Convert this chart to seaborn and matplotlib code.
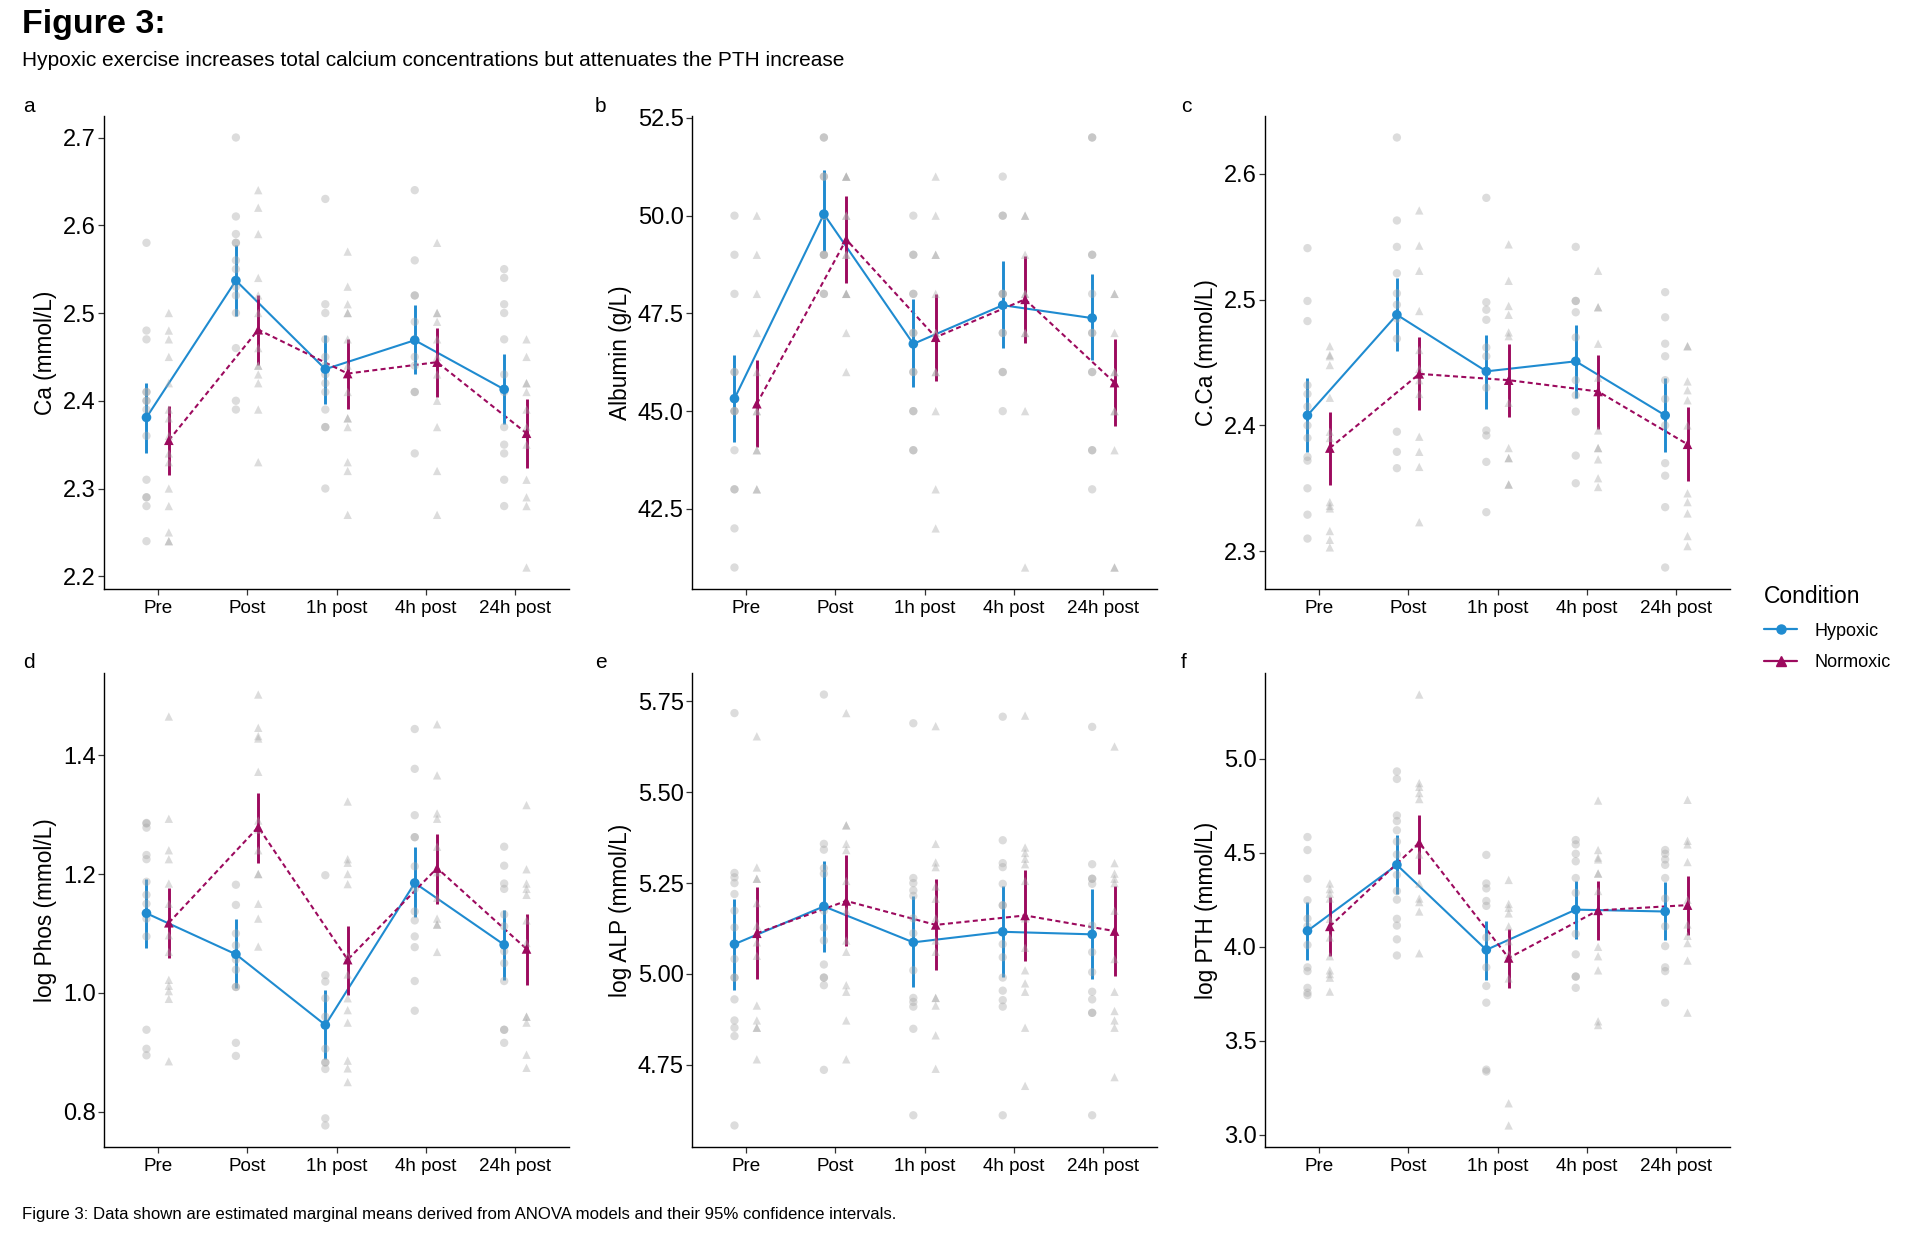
import numpy as np
import pandas as pd
import seaborn as sns
from matplotlib import pyplot as plt
from matplotlib.lines import Line2D

sns.set_theme(style="ticks")
plt.rcParams['font.family'] = ['Liberation Sans', 'DejaVu Sans']
plt.rcParams['text.color'] = 'black'
plt.rcParams['axes.labelcolor'] = 'black'
plt.rcParams['xtick.color'] = 'black'
plt.rcParams['ytick.color'] = 'black'

W, H = 1920, 1234

times = ["Pre", "Post", "1h post", "4h post", "24h post"]
conditions = ["Hypoxic", "Normoxic"]
palette = {"Hypoxic": "#1f8bd0", "Normoxic": "#9c0a5e"}

# ---- a: Ca ----
ca_hyp_mean = [2.381, 2.537, 2.436, 2.469, 2.413]
ca_hyp_lo = [2.341, 2.497, 2.396, 2.430, 2.374]
ca_hyp_hi = [2.420, 2.577, 2.475, 2.509, 2.453]
ca_nor_mean = [2.355, 2.481, 2.431, 2.444, 2.363]
ca_nor_lo = [2.315, 2.441, 2.391, 2.404, 2.323]
ca_nor_hi = [2.394, 2.520, 2.470, 2.483, 2.402]
ca_hyp_raw = [
    [2.58, 2.48, 2.47, 2.41, 2.41, 2.40, 2.40, 2.39, 2.36, 2.31, 2.29, 2.29, 2.28, 2.24],
    [2.70, 2.61, 2.59, 2.58, 2.58, 2.56, 2.55, 2.53, 2.52, 2.50, 2.46, 2.40, 2.39],
    [2.63, 2.51, 2.50, 2.47, 2.45, 2.44, 2.43, 2.42, 2.41, 2.39, 2.37, 2.37, 2.30],
    [2.64, 2.56, 2.52, 2.52, 2.49, 2.47, 2.45, 2.44, 2.41, 2.41, 2.34],
    [2.55, 2.54, 2.51, 2.50, 2.47, 2.43, 2.41, 2.37, 2.35, 2.34, 2.31, 2.28],
]
ca_nor_raw = [
    [2.50, 2.48, 2.47, 2.45, 2.42, 2.39, 2.38, 2.36, 2.34, 2.33, 2.30, 2.28, 2.25, 2.24, 2.24],
    [2.64, 2.62, 2.59, 2.54, 2.52, 2.50, 2.48, 2.46, 2.44, 2.44, 2.43, 2.42, 2.39, 2.33],
    [2.57, 2.53, 2.51, 2.50, 2.50, 2.47, 2.44, 2.41, 2.38, 2.38, 2.37, 2.33, 2.32, 2.27],
    [2.58, 2.50, 2.50, 2.49, 2.47, 2.45, 2.43, 2.40, 2.37, 2.32, 2.27],
    [2.47, 2.45, 2.42, 2.42, 2.41, 2.39, 2.37, 2.35, 2.31, 2.29, 2.28, 2.21],
]

# ---- b: Albumin ----
alb_hyp_mean = [45.32, 50.04, 46.72, 47.71, 47.38]
alb_hyp_lo = [44.22, 49.09, 45.62, 46.61, 46.30]
alb_hyp_hi = [46.44, 51.17, 47.86, 48.84, 48.52]
alb_nor_mean = [45.19, 49.39, 46.89, 47.86, 45.73]
alb_nor_lo = [44.07, 48.27, 45.78, 46.75, 44.62]
alb_nor_hi = [46.31, 50.50, 48.00, 48.97, 46.84]
alb_hyp_raw = [
    [50, 49, 48, 46, 46, 45, 45, 45, 44, 43, 43, 42, 41],
    [52, 52, 51, 51, 50, 50, 50, 49, 49, 49, 48, 48],
    [50, 49, 49, 48, 48, 47, 47, 46, 46, 45, 45, 44, 44],
    [51, 50, 50, 48, 48, 48, 47, 47, 46, 46, 45],
    [52, 52, 49, 49, 48, 47, 47, 46, 46, 44, 44, 43],
]
alb_nor_raw = [
    [50, 49, 48, 47, 46, 45, 45, 44, 44, 43, 43],
    [51, 51, 51, 50, 50, 49, 49, 48, 48, 48, 47, 46],
    [51, 50, 49, 49, 48, 47, 47, 46, 46, 45, 43, 42],
    [50, 50, 49, 48, 48, 47, 47, 45, 41],
    [48, 48, 47, 46, 46, 45, 45, 44, 41, 41],
]

# ---- c: corrected Ca ----
cca_hyp_mean = [2.408, 2.488, 2.443, 2.451, 2.408]
cca_hyp_lo = [2.379, 2.459, 2.413, 2.422, 2.379]
cca_hyp_hi = [2.438, 2.517, 2.472, 2.480, 2.438]
cca_nor_mean = [2.382, 2.441, 2.436, 2.427, 2.385]
cca_nor_lo = [2.353, 2.412, 2.407, 2.397, 2.356]
cca_nor_hi = [2.411, 2.470, 2.465, 2.456, 2.415]
cca_hyp_raw = [
    [2.541, 2.499, 2.483, 2.432, 2.425, 2.415, 2.400, 2.390, 2.375, 2.372, 2.350, 2.329, 2.310],
    [2.629, 2.563, 2.542, 2.521, 2.505, 2.496, 2.485, 2.469, 2.395, 2.379, 2.366],
    [2.581, 2.498, 2.492, 2.484, 2.462, 2.455, 2.430, 2.396, 2.392, 2.371, 2.331],
    [2.542, 2.499, 2.499, 2.490, 2.470, 2.436, 2.424, 2.411, 2.376, 2.354],
    [2.506, 2.486, 2.465, 2.455, 2.436, 2.421, 2.400, 2.370, 2.360, 2.335, 2.287],
]
cca_nor_raw = [
    [2.463, 2.456, 2.455, 2.448, 2.422, 2.395, 2.390, 2.339, 2.336, 2.334, 2.316, 2.309, 2.303],
    [2.571, 2.543, 2.523, 2.491, 2.460, 2.445, 2.436, 2.425, 2.391, 2.379, 2.367, 2.323],
    [2.544, 2.515, 2.495, 2.488, 2.474, 2.471, 2.418, 2.382, 2.374, 2.374, 2.353, 2.353],
    [2.523, 2.494, 2.494, 2.465, 2.438, 2.396, 2.382, 2.382, 2.373, 2.358, 2.351],
    [2.463, 2.463, 2.435, 2.428, 2.420, 2.400, 2.346, 2.339, 2.330, 2.312, 2.304],
]

# ---- d: log Phos ----
phos_hyp_mean = [1.134, 1.065, 0.946, 1.185, 1.081]
phos_hyp_lo = [1.075, 1.009, 0.888, 1.128, 1.022]
phos_hyp_hi = [1.192, 1.124, 1.005, 1.245, 1.140]
phos_nor_mean = [1.118, 1.279, 1.056, 1.210, 1.074]
phos_nor_lo = [1.059, 1.218, 0.996, 1.150, 1.013]
phos_nor_hi = [1.176, 1.337, 1.113, 1.267, 1.132]
phos_hyp_raw = [
    [1.286, 1.285, 1.278, 1.232, 1.225, 1.187, 1.165, 1.150, 1.125, 1.095, 0.938, 0.906, 0.895],
    [1.182, 1.148, 1.100, 1.080, 1.056, 1.039, 1.010, 1.010, 0.916, 0.894],
    [1.198, 1.030, 1.019, 0.991, 0.960, 0.945, 0.906, 0.883, 0.883, 0.872, 0.789, 0.777],
    [1.444, 1.377, 1.299, 1.262, 1.262, 1.213, 1.175, 1.137, 1.122, 1.095, 1.077, 1.020, 0.970],
    [1.246, 1.214, 1.184, 1.175, 1.132, 1.112, 1.070, 1.050, 1.020, 0.938, 0.938, 0.916],
]
phos_nor_raw = [
    [1.465, 1.293, 1.240, 1.225, 1.184, 1.150, 1.097, 1.069, 1.022, 1.012, 1.003, 0.990, 0.885],
    [1.502, 1.446, 1.432, 1.428, 1.372, 1.290, 1.275, 1.240, 1.200, 1.200, 1.150, 1.125, 1.078],
    [1.322, 1.225, 1.219, 1.200, 1.183, 1.062, 1.031, 0.991, 0.971, 0.950, 0.886, 0.873, 0.850],
    [1.452, 1.366, 1.302, 1.293, 1.246, 1.203, 1.160, 1.125, 1.115, 1.115, 1.069],
    [1.316, 1.208, 1.184, 1.175, 1.165, 1.122, 1.084, 0.960, 0.960, 0.950, 0.896, 0.874],
]

# ---- e: log ALP ----
alp_hyp_mean = [5.082, 5.186, 5.087, 5.116, 5.109]
alp_hyp_lo = [4.957, 5.061, 4.964, 4.992, 4.985]
alp_hyp_hi = [5.207, 5.310, 5.215, 5.242, 5.235]
alp_nor_mean = [5.112, 5.201, 5.135, 5.161, 5.118]
alp_nor_lo = [4.987, 5.076, 5.010, 5.036, 4.993]
alp_nor_hi = [5.240, 5.328, 5.262, 5.287, 5.243]
alp_hyp_raw = [
    [5.718, 5.278, 5.266, 5.250, 5.220, 5.174, 5.128, 5.041, 4.990, 4.990, 4.930, 4.872, 4.852, 4.829, 4.583],
    [5.769, 5.358, 5.342, 5.291, 5.276, 5.174, 5.128, 5.092, 5.026, 4.990, 4.990, 4.969, 4.736],
    [5.690, 5.264, 5.250, 5.230, 5.215, 5.153, 5.112, 5.010, 4.934, 4.923, 4.910, 4.849, 4.611],
    [5.708, 5.368, 5.305, 5.294, 5.248, 5.189, 5.189, 5.082, 5.046, 4.990, 4.954, 4.928, 4.910, 4.611],
    [5.680, 5.302, 5.262, 5.262, 5.248, 5.133, 5.060, 5.005, 4.951, 4.930, 4.893, 4.893, 4.611],
]
alp_nor_raw = [
    [5.654, 5.293, 5.262, 5.262, 5.195, 5.133, 5.087, 5.050, 4.913, 4.872, 4.852, 4.852, 4.765],
    [5.718, 5.409, 5.409, 5.358, 5.341, 5.256, 5.174, 5.092, 5.061, 4.969, 4.951, 4.872, 4.765],
    [5.682, 5.358, 5.307, 5.294, 5.241, 5.207, 5.153, 5.092, 5.061, 4.934, 4.934, 4.913, 4.831, 4.739],
    [5.711, 5.348, 5.333, 5.317, 5.302, 5.256, 5.153, 5.072, 5.010, 4.974, 4.951, 4.852, 4.692],
    [5.626, 5.305, 5.276, 5.262, 5.250, 5.174, 5.041, 4.951, 4.898, 4.872, 4.852, 4.716],
]

# ---- f: log PTH ----
pth_hyp_mean = [4.085, 4.436, 3.984, 4.198, 4.188]
pth_hyp_lo = [3.931, 4.283, 3.826, 4.040, 4.034]
pth_hyp_hi = [4.238, 4.594, 4.139, 4.350, 4.343]
pth_nor_mean = [4.109, 4.554, 3.941, 4.194, 4.222]
pth_nor_lo = [3.950, 4.390, 3.782, 4.034, 4.062]
pth_nor_hi = [4.264, 4.703, 4.095, 4.350, 4.378]
pth_hyp_raw = [
    [4.584, 4.515, 4.362, 4.248, 4.150, 4.109, 4.010, 3.891, 3.871, 3.782, 3.756, 3.743],
    [4.933, 4.893, 4.699, 4.669, 4.620, 4.560, 4.491, 4.383, 4.297, 4.251, 4.149, 4.113, 4.040, 3.954],
    [4.489, 4.337, 4.311, 4.244, 4.218, 4.050, 3.891, 3.792, 3.703, 3.347, 3.337],
    [4.568, 4.545, 4.495, 4.455, 4.366, 4.287, 4.200, 4.069, 3.960, 3.842, 3.842, 3.782],
    [4.515, 4.495, 4.465, 4.436, 4.366, 4.257, 4.109, 4.004, 3.891, 3.871, 3.703],
]
pth_nor_raw = [
    [4.337, 4.307, 4.283, 4.257, 4.149, 4.050, 3.950, 3.875, 3.855, 3.836, 3.762],
    [5.342, 4.871, 4.851, 4.818, 4.786, 4.491, 4.337, 4.257, 4.238, 4.188, 3.966],
    [4.356, 4.228, 4.208, 4.178, 4.109, 4.030, 3.960, 3.832, 3.168, 3.050],
    [4.778, 4.515, 4.475, 4.465, 4.390, 4.390, 4.297, 4.000, 3.950, 3.875, 3.604, 3.584],
    [4.782, 4.564, 4.545, 4.451, 4.250, 4.119, 4.059, 4.020, 3.927, 3.650],
]

offsets = {"Hypoxic": -0.125, "Normoxic": 0.125}
markers = {"Hypoxic": "o", "Normoxic": "^"}


def add_panel(fig, left, top, right, bottom):
    return fig.add_axes([left / W, 1 - bottom / H, (right - left) / W, (bottom - top) / H])


def draw_panel(ax, hyp_raw, nor_raw, hyp_stats, nor_stats, ylabel, yticks, fmt):
    rows = []
    for cond, raw in (("Hypoxic", hyp_raw), ("Normoxic", nor_raw)):
        for i, vals in enumerate(raw):
            for v in vals:
                rows.append((i + offsets[cond], cond, v))
    df_raw = pd.DataFrame(rows, columns=["x", "Condition", "value"])

    mrows = []
    for cond, (m, lo, hi) in (("Hypoxic", hyp_stats), ("Normoxic", nor_stats)):
        for i in range(len(times)):
            mrows.append((i + offsets[cond], cond, m[i], lo[i], hi[i]))
    df_m = pd.DataFrame(mrows, columns=["x", "Condition", "mean", "lo", "hi"])

    sns.lineplot(data=df_m, x="x", y="mean", hue="Condition", style="Condition",
                 palette=palette, dashes={"Hypoxic": "", "Normoxic": (2.4, 1.6)},
                 errorbar=None, linewidth=1.5, legend=False, ax=ax, zorder=2)
    for cond in conditions:
        sub = df_m[df_m["Condition"] == cond]
        ax.vlines(sub["x"], sub["lo"], sub["hi"], color=palette[cond], lw=2.1, zorder=2)

    sns.scatterplot(data=df_raw, x="x", y="value", style="Condition", markers=markers,
                    color="#a8a8a8", alpha=0.4, s=36, linewidth=0, legend=False,
                    ax=ax, zorder=3)
    sns.scatterplot(data=df_m, x="x", y="mean", hue="Condition", style="Condition",
                    markers=markers, palette=palette, s=48, linewidth=0, legend=False,
                    ax=ax, zorder=4)

    lo_v, hi_v = df_raw["value"].min(), df_raw["value"].max()
    pad = (hi_v - lo_v) * 0.05
    ax.set_ylim(lo_v - pad, hi_v + pad)
    ax.set_xlim(-0.6, 4.6)
    ax.set_xticks(range(len(times)))
    ax.set_xticklabels(times, fontsize=13.6)
    ax.set_yticks(yticks)
    ax.set_yticklabels([fmt.format(t) for t in yticks], fontsize=17)
    ax.set_xlabel("")
    ax.set_ylabel(ylabel, fontsize=16.3, labelpad=4)
    sns.despine(ax=ax)
    for sp in ("left", "bottom"):
        ax.spines[sp].set_color("black")
        ax.spines[sp].set_linewidth(1.0)
    ax.tick_params(axis="both", length=4, width=0.9, color="#333333", pad=2, labelcolor="black")
    ax.tick_params(axis="x", pad=4)


fig = plt.figure(figsize=(W / 100, H / 100), dpi=100)

cols = [(104, 569), (692, 1157), (1265, 1730)]
rows_px = [(116, 589), (673, 1147)]

panels = [
    (ca_hyp_raw, ca_nor_raw, (ca_hyp_mean, ca_hyp_lo, ca_hyp_hi), (ca_nor_mean, ca_nor_lo, ca_nor_hi),
     "Ca (mmol/L)", [2.2, 2.3, 2.4, 2.5, 2.6, 2.7], "{:.1f}", "a"),
    (alb_hyp_raw, alb_nor_raw, (alb_hyp_mean, alb_hyp_lo, alb_hyp_hi), (alb_nor_mean, alb_nor_lo, alb_nor_hi),
     "Albumin (g/L)", [42.5, 45.0, 47.5, 50.0, 52.5], "{:.1f}", "b"),
    (cca_hyp_raw, cca_nor_raw, (cca_hyp_mean, cca_hyp_lo, cca_hyp_hi), (cca_nor_mean, cca_nor_lo, cca_nor_hi),
     "C.Ca (mmol/L)", [2.3, 2.4, 2.5, 2.6], "{:.1f}", "c"),
    (phos_hyp_raw, phos_nor_raw, (phos_hyp_mean, phos_hyp_lo, phos_hyp_hi), (phos_nor_mean, phos_nor_lo, phos_nor_hi),
     "log Phos (mmol/L)", [0.8, 1.0, 1.2, 1.4], "{:.1f}", "d"),
    (alp_hyp_raw, alp_nor_raw, (alp_hyp_mean, alp_hyp_lo, alp_hyp_hi), (alp_nor_mean, alp_nor_lo, alp_nor_hi),
     "log ALP (mmol/L)", [4.75, 5.00, 5.25, 5.50, 5.75], "{:.2f}", "e"),
    (pth_hyp_raw, pth_nor_raw, (pth_hyp_mean, pth_hyp_lo, pth_hyp_hi), (pth_nor_mean, pth_nor_lo, pth_nor_hi),
     "log PTH (mmol/L)", [3.0, 3.5, 4.0, 4.5, 5.0], "{:.1f}", "f"),
]

label_x = [23, 595, 1181]
for k, (hr, nr, hs, ns, ylab, yt, fmt, letter) in enumerate(panels):
    r, c = divmod(k, 3)
    left, right = cols[c]
    top, bottom = rows_px[r]
    ax = add_panel(fig, left, top, right, bottom)
    draw_panel(ax, hr, nr, hs, ns, ylab, yt, fmt)
    fig.text(label_x[c] / W, 1 - (top - 10) / H, letter, fontsize=15, ha="left", va="center")

fig.text(22 / W, 1 - 25 / H, "Figure 3:", fontsize=24.5, fontweight="bold", ha="left", va="center")
fig.text(22 / W, 1 - 61 / H,
         "Hypoxic exercise increases total calcium concentrations but attenuates the PTH increase",
         fontsize=15, ha="left", va="center")
fig.text(22 / W, 1 - 1215 / H,
         "Figure 3: Data shown are estimated marginal means derived from ANOVA models and their 95% confidence intervals.",
         fontsize=12.1, ha="left", va="center")

handles = [Line2D([0], [0], color=palette[c], lw=1.6, marker=markers[c], markersize=6.5) for c in conditions]
leg = fig.legend(handles, conditions, title="Condition", loc="upper left",
                 bbox_to_anchor=(1748 / W, 1 - 569 / H), frameon=False,
                 fontsize=13, title_fontsize=16.5, handlelength=1.8, handletextpad=1.0,
                 labelspacing=0.8, alignment="left")

fig.savefig("out.png", dpi=100)
